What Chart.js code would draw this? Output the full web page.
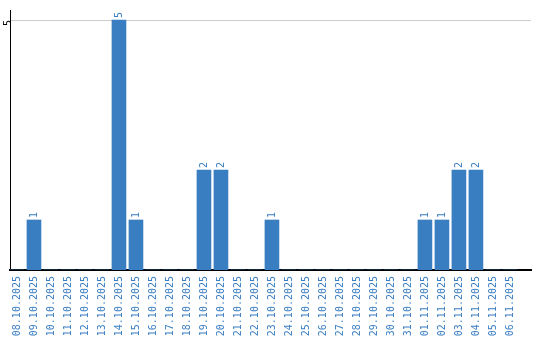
<!DOCTYPE html>
<html lang="en">
  <head>
    <meta charset="UTF-8" />
    <title>Daily count</title>
    <script src="https://cdn.jsdelivr.net/npm/chart.js"></script>
    <style>
      html, body { margin: 0; padding: 0; background: #fff; }
      #wrap { width: 540px; height: 340px; }
    </style>
  </head>
  <body>
    <div id="wrap"><canvas id="chart" width="540" height="340"></canvas></div>
    <script>
      // dates on the x axis
      const days = [
        "08.10.2025", "09.10.2025", "10.10.2025", "11.10.2025", "12.10.2025",
        "13.10.2025", "14.10.2025", "15.10.2025", "16.10.2025", "17.10.2025",
        "18.10.2025", "19.10.2025", "20.10.2025", "21.10.2025", "22.10.2025",
        "23.10.2025", "24.10.2025", "25.10.2025", "26.10.2025", "27.10.2025",
        "28.10.2025", "29.10.2025", "30.10.2025", "31.10.2025", "01.11.2025",
        "02.11.2025", "03.11.2025", "04.11.2025", "05.11.2025", "06.11.2025"
      ];
      const counts = [
        0, 1, 0, 0, 0, 0, 5, 1, 0, 0,
        0, 2, 2, 0, 0, 1, 0, 0, 0, 0,
        0, 0, 0, 0, 1, 1, 2, 2, 0, 0
      ];
      const yTicks = [5];

      const blue = "#3a7ec2";
      const mono = "'DejaVu Sans Mono', monospace";

      // value labels above bars, rotated
      const valueLabels = {
        id: "valueLabels",
        afterDatasetsDraw(chart) {
          const ctx = chart.ctx;
          const meta = chart.getDatasetMeta(0);
          ctx.save();
          ctx.fillStyle = blue;
          ctx.font = "10px " + mono;
          ctx.textAlign = "left";
          ctx.textBaseline = "middle";
          meta.data.forEach((bar, i) => {
            const v = counts[i];
            if (!v) return;
            ctx.save();
            ctx.translate(bar.x, bar.y - 2);
            ctx.rotate(-Math.PI / 2);
            ctx.fillText(String(v), 0, 0);
            ctx.restore();
          });
          ctx.restore();
        },
      };

      new Chart(document.getElementById("chart"), {
        type: "bar",
        data: {
          datasets: [
            {
              data: counts.map((v, i) => ({ x: i, y: v })),
              backgroundColor: blue,
              barThickness: 14,
              borderWidth: 0,
            },
          ],
        },
        options: {
          responsive: false,
          animation: false,
          layout: { padding: { top: 10, right: 9, left: 0, bottom: 0 } },
          plugins: { legend: { display: false }, tooltip: { enabled: false } },
          scales: {
            x: {
              type: "linear",
              offset: false,
              min: -0.41,
              max: 30.24,
              afterBuildTicks: (s) => {
                s.ticks = days.map((d, i) => ({ value: i }));
              },
              afterFit: (s) => {
                s.height = 70;
                s.paddingLeft = 0;
                s.paddingRight = 0;
              },
              grid: { display: false, drawTicks: false },
              border: { color: "#000", width: 2 },
              ticks: {
                autoSkip: false,
                minRotation: 90,
                maxRotation: 90,
                padding: 6,
                color: blue,
                font: { family: mono, size: 10 },
                callback: (v) => days[v] || "",
              },
            },
            y: {
              min: 0,
              max: 5.2,
              afterBuildTicks: (s) => {
                s.ticks = yTicks.map((v) => ({ value: v }));
              },
              afterFit: (s) => {
                s.width = 10;
                s.paddingTop = 0;
                s.paddingBottom = 0;
              },
              grid: { color: "#cccccc", drawTicks: false },
              border: { color: "#000", width: 1 },
              ticks: {
                minRotation: 90,
                maxRotation: 90,
                padding: 2,
                color: "#000",
                font: { family: mono, size: 10 },
              },
            },
          },
        },
        plugins: [valueLabels],
      });
    </script>
  </body>
</html>
